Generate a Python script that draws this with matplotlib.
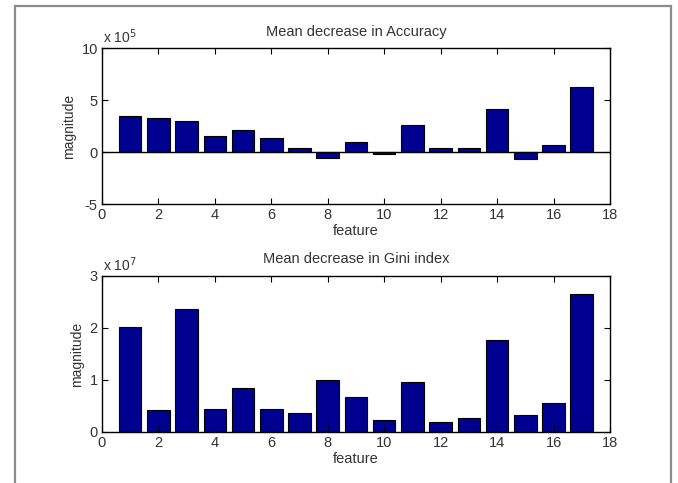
import matplotlib
matplotlib.use("Agg")
import matplotlib.pyplot as plt
from matplotlib.patches import Rectangle

plt.rcParams['font.family'] = ['Liberation Sans', 'DejaVu Sans']
plt.rcParams['axes.unicode_minus'] = False

features = list(range(1, 18))
# mean decrease in accuracy (x 1e5)
accuracy = [3.5, 3.3, 3.0, 1.55, 2.1, 1.35, 0.45, -0.55, 1.0, -0.15,
            2.65, 0.45, 0.45, 4.15, -0.65, 0.7, 6.25]
# mean decrease in Gini index (x 1e7)
gini = [2.02, 0.42, 2.36, 0.44, 0.85, 0.44, 0.37, 1.0, 0.68, 0.24,
        0.96, 0.2, 0.26, 1.77, 0.33, 0.55, 2.65]

bar_color = '#000090'
txt_color = '#333333'

fig = plt.figure(figsize=(6.78, 4.83), dpi=100)
fig.patch.set_facecolor('white')

# grey frame around the figure
fig.patches.append(Rectangle((15 / 678, -0.1), (671 - 15) / 678, 1.1 - 6 / 483,
                             transform=fig.transFigure, fill=False,
                             edgecolor='#8c8c8c', linewidth=1.6))

ax1 = fig.add_axes([0.1504, 0.5776, 0.7493, 0.322])
ax2 = fig.add_axes([0.1504, 0.1056, 0.7493, 0.323])


def style_axis(ax, title, yticks, ylim, exponent):
    ax.set_xlim(0, 18)
    ax.set_ylim(*ylim)
    ax.set_xticks(range(0, 19, 2))
    ax.set_yticks(yticks)
    ax.tick_params(direction='in', top=True, right=True, length=4,
                   labelsize=10.5, colors='black', labelcolor=txt_color, pad=3)
    ax.set_title(title, fontsize=10.5, color=txt_color, pad=9)
    ax.set_xlabel('feature', fontsize=10.5, color=txt_color, labelpad=1)
    ax.set_ylabel('magnitude', fontsize=10, color=txt_color, labelpad=4)
    ax.text(0.003, 1.015, r'x 10$^{%d}$' % exponent, transform=ax.transAxes,
            fontsize=10, color=txt_color, ha='left', va='bottom')
    for s in ax.spines.values():
        s.set_linewidth(1.0)


ax1.bar(features, accuracy, width=0.8, color=bar_color, edgecolor='black', linewidth=0.8)
ax1.axhline(0, color='black', linewidth=1.0)
style_axis(ax1, 'Mean decrease in Accuracy', [-5, 0, 5, 10], (-5, 10), 5)

ax2.bar(features, gini, width=0.8, color=bar_color, edgecolor='black', linewidth=0.8)
style_axis(ax2, 'Mean decrease in Gini index', [0, 1, 2, 3], (0, 3), 7)

fig.savefig('out.png', dpi=100)
